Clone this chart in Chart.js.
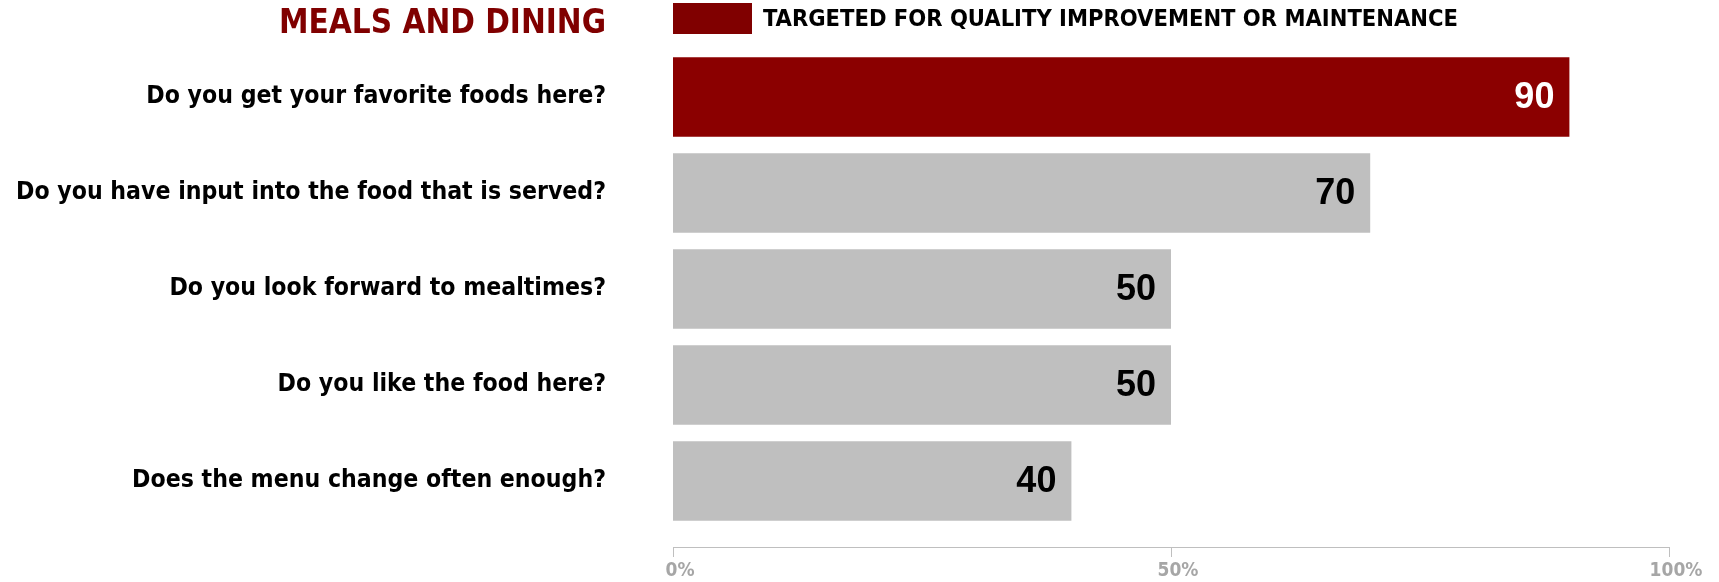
<!DOCTYPE html>
<html>
<head>
<meta charset="utf-8">
<script src="https://cdn.jsdelivr.net/npm/chart.js@4.4.1/dist/chart.umd.min.js"></script>
<style>
  html, body { margin: 0; padding: 0; background: #fff; }
  #wrap { width: 1719px; height: 582px; position: relative; }
</style>
</head>
<body>
<div id="wrap"><canvas id="mealsChart"></canvas></div>
<script>
const questions = [
  'Do you get your favorite foods here?',
  'Do you have input into the food that is served?',
  'Do you look forward to mealtimes?',
  'Do you like the food here?',
  'Does the menu change often enough?'
];
const scores = [90, 70, 50, 50, 40];
const targeted = [true, false, false, false, false];
const axisTicks = [0, 50, 100];

const heading = 'MEALS AND DINING';
const legendText = 'TARGETED FOR QUALITY IMPROVEMENT OR MAINTENANCE';

const narrow = '"Liberation Sans Narrow", "DejaVu Sans Condensed", "Roboto Condensed", "Arial Narrow", sans-serif';
const darkRed = '#8b0000';
const grey = '#bfbfbf';

// heading, legend swatch, baseline and value labels
const decorations = {
  id: 'decorations',
  afterDraw(chart) {
    const ctx = chart.ctx;
    const x = chart.scales.x;
    const area = chart.chartArea;
    ctx.save();

    // heading, right edge lines up with question labels
    ctx.fillStyle = '#800000';
    ctx.font = 'bold 33px ' + narrow;
    ctx.textAlign = 'right';
    ctx.textBaseline = 'middle';
    ctx.fillText(heading, area.left - 67, 24);

    // legend
    ctx.fillStyle = '#800000';
    ctx.fillRect(area.left, 3, 79, 31);
    ctx.fillStyle = '#000';
    ctx.font = 'bold 23.5px ' + narrow;
    ctx.textAlign = 'left';
    ctx.fillText(legendText, area.left + 90, 20);

    // baseline with tick marks
    const y0 = area.bottom + 18;
    ctx.strokeStyle = '#bfbfbf';
    ctx.lineWidth = 1;
    ctx.beginPath();
    ctx.moveTo(x.getPixelForValue(0), y0 + 0.5);
    ctx.lineTo(x.getPixelForValue(100), y0 + 0.5);
    axisTicks.forEach(v => {
      const px = Math.round(x.getPixelForValue(v)) + 0.5;
      ctx.moveTo(px, y0);
      ctx.lineTo(px, y0 + 10);
    });
    ctx.stroke();

    // value labels inside the bar ends
    ctx.font = 'bold 36px "Liberation Sans", Arial, sans-serif';
    ctx.textAlign = 'right';
    chart.getDatasetMeta(0).data.forEach((bar, i) => {
      ctx.fillStyle = targeted[i] ? '#fff' : '#000';
      ctx.fillText(String(scores[i]), bar.x - 15, bar.y + 1);
    });
    ctx.restore();
  }
};

new Chart(document.getElementById('mealsChart'), {
  type: 'bar',
  data: {
    labels: questions,
    datasets: [{
      data: scores,
      backgroundColor: targeted.map(t => t ? darkRed : grey),
      borderWidth: 0,
      barPercentage: 0.83,
      categoryPercentage: 1
    }]
  },
  options: {
    indexAxis: 'y',
    responsive: true,
    maintainAspectRatio: false,
    animation: false,
    layout: { padding: { top: 49, right: 50, bottom: 0, left: 0 } },
    plugins: {
      legend: { display: false },
      tooltip: { enabled: false }
    },
    scales: {
      x: {
        min: 0,
        max: 100,
        afterBuildTicks: s => { s.ticks = axisTicks.map(v => ({ value: v })); },
        afterFit: s => { s.height = 53; s.paddingLeft = 0; s.paddingRight = 0; },
        grid: { display: false, drawTicks: false },
        border: { display: false },
        ticks: {
          padding: 31,
          labelOffset: 7,
          maxRotation: 0,
          color: '#a6a6a6',
          font: { family: narrow, size: 19, weight: 'bold' },
          callback: v => v + '%'
        }
      },
      y: {
        grid: { display: false, drawTicks: false },
        border: { display: false },
        afterFit: s => { s.width = 673; s.paddingTop = 0; s.paddingBottom = 0; },
        ticks: {
          padding: 67,
          color: '#000',
          font: { family: narrow, size: 24.6, weight: 'bold' }
        }
      }
    }
  },
  plugins: [decorations]
});
</script>
</body>
</html>
